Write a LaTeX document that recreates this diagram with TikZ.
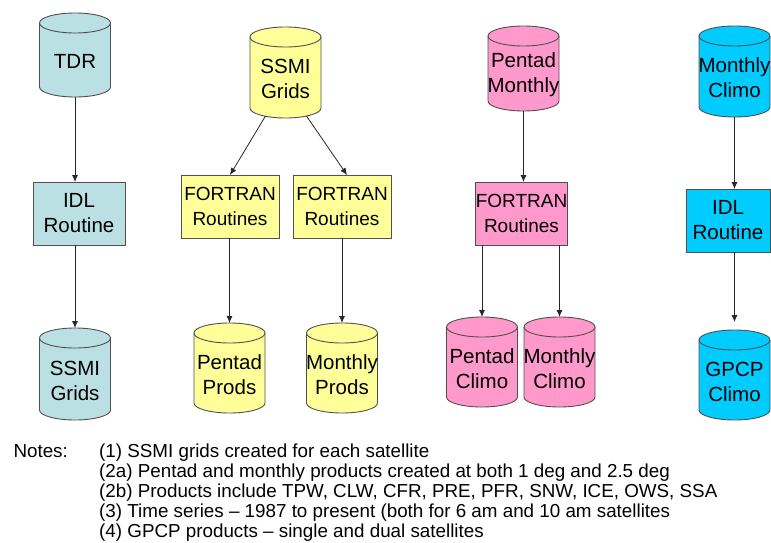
\documentclass[tikz,border=0pt]{standalone}
\usepackage{fontspec}
\setmainfont{Liberation Sans}
\usetikzlibrary{calc,arrows.meta}

\definecolor{drumteal}{HTML}{BBE0E3}
\definecolor{drumyellow}{HTML}{FFFF99}
\definecolor{drumpink}{HTML}{FF99CC}
\definecolor{drumcyan}{HTML}{00CCFF}
\definecolor{edgegray}{HTML}{505050}

\tikzset{
  drumbox/.style={rectangle, minimum width=71pt, inner sep=0pt, outer sep=0pt},
  drumline/.style={draw=edgegray, line width=0.9pt},
  drumtext/.style={font=\fontsize{20.5}{25}\selectfont, align=center, inner sep=0pt},
  procbox/.style={rectangle, draw=edgegray, line width=0.9pt, minimum height=63pt,
    inner sep=0pt, outer sep=0pt, align=center, font=\fontsize{20.5}{25}\selectfont},
  fortranfont/.style={font=\fontsize{19}{25}\selectfont},
  flow/.style={draw=black!85, line width=0.8pt, -{Latex[length=7pt,width=6pt]}},
  notetext/.style={anchor=base west, inner sep=0pt, font=\fontsize{18.8}{20.3}\selectfont},
}

% data store drawn as a cylinder: name, centre, height, fill, text
\newcommand\drum[5]{%
  \node[drumbox, minimum height=#3pt] (#1) at (#2) {};
  \path[drumline, fill=#4]
    ($(#1.north west)+(0,-10)$) -- ($(#1.south west)+(0,10)$)
    arc[start angle=180, end angle=360, x radius=35.5pt, y radius=10pt]
    -- ($(#1.north east)+(0,-10)$)
    arc[start angle=0, end angle=180, x radius=35.5pt, y radius=10pt] -- cycle;
  \path[drumline] ($(#1.north west)+(0,-10)$)
    arc[start angle=180, end angle=360, x radius=35.5pt, y radius=10pt];
  \node[drumtext] (#1-t) at ([yshift=-6.5pt]#1.center) {#5};
}

\begin{document}
\begin{tikzpicture}[x=1pt, y=1pt]
\useasboundingbox (0,0) rectangle (771,542);

% column 1: TDR processing
\drum{tdr}{75,487}{84}{drumteal}{TDR}
\node[procbox, fill=drumteal, minimum width=92pt] (idlA) at (79,328.5) {IDL\\Routine};
\drum{ssmiA}{75,168}{92}{drumteal}{SSMI\\Grids}

% column 2: products from the SSMI grids
\drum{ssmiB}{285.5,469.5}{91}{drumyellow}{SSMI\\Grids}
\node[procbox, fortranfont, fill=drumyellow, minimum width=98pt] (fortA) at (230,335.5) {FORTRAN\\Routines};
\node[procbox, fortranfont, fill=drumyellow, minimum width=98pt] (fortB) at (342,335.5) {FORTRAN\\Routines};
\drum{prodP}{229.5,174}{90}{drumyellow}{Pentad\\Prods}
\drum{prodM}{342,174}{90}{drumyellow}{Monthly\\Prods}

% column 3: climatologies
\drum{pm}{523.5,473.5}{85}{drumpink}{Pentad\\Monthly}
\node[procbox, fortranfont, fill=drumpink, minimum width=91pt] (fortC) at (521.5,328.5) {FORTRAN\\Routines};
\drum{climP}{482,180}{90}{drumpink}{Pentad\\Climo}
\drum{climM}{559.5,180}{90}{drumpink}{Monthly\\Climo}

% column 4: GPCP climatology
\drum{mclim}{734.5,470.5}{91}{drumcyan}{Monthly\\Climo}
\node[procbox, fill=drumcyan, minimum width=84pt] (idlB) at (728,321.5) {IDL\\Routine};
\drum{gpcp}{734.5,167}{90}{drumcyan}{GPCP\\Climo}

% connectors
\draw[flow] (tdr.south) -- (tdr.south |- idlA.north);
\draw[flow] (ssmiA.north |- idlA.south) -- (ssmiA.north);
\draw[flow] ($(ssmiB.south)+(-20,2)$) -- (fortA.north);
\draw[flow] ($(ssmiB.south)+(21,2)$) -- ($(fortB.north)+(5,0)$);
\draw[flow] (prodP.north |- fortA.south) -- (prodP.north);
\draw[flow] (prodM.north |- fortB.south) -- (prodM.north);
\draw[flow] (pm.south) -- (pm.south |- fortC.north);
\draw[flow] (climP.north |- fortC.south) -- (climP.north);
\draw[flow] (climM.north |- fortC.south) -- (climM.north);
\draw[flow] (mclim.south) -- (mclim.south |- idlB.north);
\draw[flow, shorten >=8pt] (gpcp.north |- idlB.south) -- (gpcp.north);

% notes
\node[notetext] (notes) at (13.3,85) {Notes:};
\node[notetext] (note1) at (99,85) {(1) SSMI grids created for each satellite};
\node[notetext] (note2) at (99,65) {(2a) Pentad and monthly products created at both 1 deg and 2.5 deg};
\node[notetext] (note3) at (99,45) {(2b) Products include TPW, CLW, CFR, PRE, PFR, SNW, ICE, OWS, SSA};
\node[notetext] (note4) at (99,25) {(3) Time series – 1987 to present (both for 6 am and 10 am satellites};
\node[notetext] (note5) at (99,5) {(4) GPCP products – single and dual satellites};
\end{tikzpicture}
\end{document}
